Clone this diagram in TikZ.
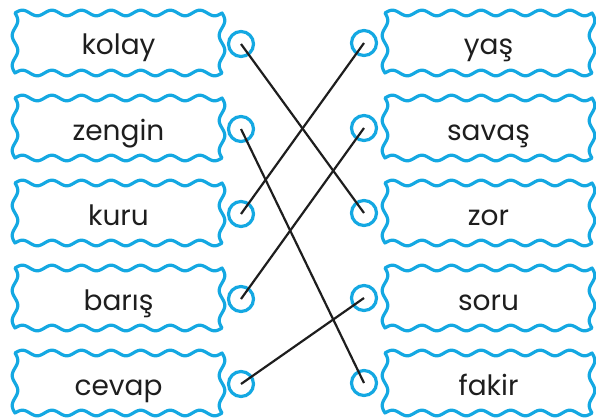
\documentclass[tikz,border=0pt]{standalone}
\usepackage{fontspec}
\setmainfont{Poppins}
\definecolor{wblue}{RGB}{20,168,226}
\definecolor{ink}{RGB}{30,30,30}
\tikzset{
  word/.style={inner sep=0pt, minimum width=207pt, minimum height=60pt,
    text height=30pt, text depth=6pt, text=ink,
    font=\fontsize{28}{30}\selectfont},
  wave/.style={wblue, line width=3.2pt, line join=round},
  dot/.style={circle, draw=wblue, line width=3.2pt, minimum size=25pt, inner sep=0pt},
  link/.style={ink, line width=2.2pt}
}
\newcommand\wavyframe[1]{%
  \draw[wave, shift={(#1.center)}]
    plot[domain=0:1,samples=141,variable=\t] ({-103.5+207*\t},{-30-2.8*sin(7*360*\t)})
    -- plot[domain=0:1,samples=41,variable=\t] ({103.5+2.8*sin(2*360*\t)},{-30+60*\t})
    -- plot[domain=0:1,samples=141,variable=\t] ({103.5-207*\t},{30+2.8*sin(7*360*\t)})
    -- plot[domain=0:1,samples=41,variable=\t] ({-103.5-2.8*sin(2*360*\t)},{30-60*\t})
    -- cycle;}
\begin{document}
\begin{tikzpicture}[x=1pt,y=-1pt]
\useasboundingbox (0,0) rectangle (596,417);
% left words
\node[word] (w1) at (118.5,43) {kolay};
\node[word] (w2) at (118.5,128) {zengin};
\node[word] (w3) at (118.5,213) {kuru};
\node[word] (w4) at (118.5,298) {barış};
\node[word] (w5) at (118.5,383) {cevap};
% right words
\node[word] (v1) at (488.5,43) {yaş};
\node[word] (v2) at (488.5,128) {savaş};
\node[word] (v3) at (488.5,213) {zor};
\node[word] (v4) at (488.5,298) {soru};
\node[word] (v5) at (488.5,383) {fakir};
\foreach \n in {w1,w2,w3,w4,w5,v1,v2,v3,v4,v5}{\wavyframe{\n}}
% dots
\node[dot] (l1) at (241,44) {};
\node[dot] (l2) at (241,129) {};
\node[dot] (l3) at (241,214) {};
\node[dot] (l4) at (241,299) {};
\node[dot] (l5) at (241,384) {};
\node[dot] (r1) at (364,43) {};
\node[dot] (r2) at (364,128) {};
\node[dot] (r3) at (364,213) {};
\node[dot] (r4) at (364,298) {};
\node[dot] (r5) at (364,383) {};
% links
\draw[link] (l1.center) -- (r3.center);
\draw[link] (l2.center) -- (r5.center);
\draw[link] (l3.center) -- (r1.center);
\draw[link] (l4.center) -- (r2.center);
\draw[link] (l5.center) -- (r4.center);
\end{tikzpicture}
\end{document}
